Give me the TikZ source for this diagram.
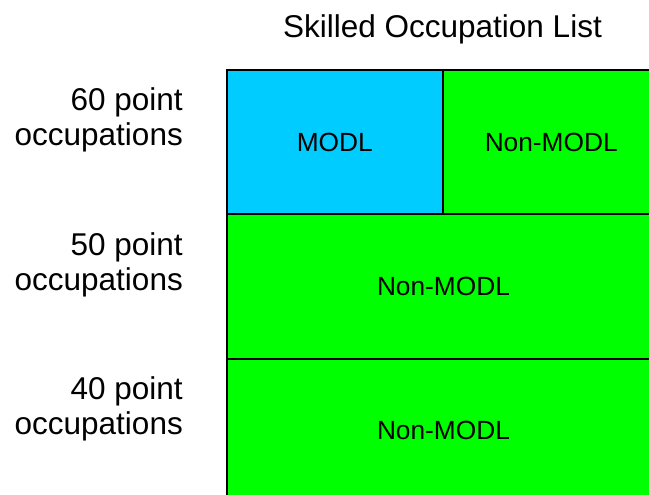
\documentclass[tikz,border=0pt]{standalone}
\usepackage{fontspec}
\setmainfont{Liberation Sans}
\definecolor{modlblue}{HTML}{00CCFF}
\definecolor{nongreen}{HTML}{00FF00}
\begin{document}
\begin{tikzpicture}[x=1pt,y=-1pt,
  cell/.style={draw=black, line width=2pt, inner sep=0pt, outer sep=0pt,
    font=\fontsize{26.3}{30}\selectfont, anchor=north west},
  big/.style={font=\fontsize{31.5}{35}\selectfont, inner sep=0pt}]
\useasboundingbox (0,0) rectangle (649,495);
\fill[white] (0,0) rectangle (649,495);
\clip (0,0) rectangle (649,495);
\node[cell, fill=modlblue, minimum width=215.5pt, minimum height=144.3pt] (c1) at (227,70) {MODL};
\node[cell, fill=nongreen, minimum width=217.5pt, minimum height=144.3pt] (c2) at (442.5,70) {Non-MODL};
\node[cell, fill=nongreen, minimum width=433pt, minimum height=144.4pt] (c3) at (227,214.3) {Non-MODL};
\node[cell, fill=nongreen, minimum width=433pt, minimum height=144.3pt] (c4) at (227,358.7) {Non-MODL};
\node[big, anchor=base] (title) at (442.5,38) {Skilled Occupation List};
\node[big, align=right, anchor=north east] (l60) at (183,87.8) {60 point\\occupations};
\node[big, align=right, anchor=north east] (l50) at (183,232.2) {50 point\\occupations};
\node[big, align=right, anchor=north east] (l40) at (183,376.6) {40 point\\occupations};
\end{tikzpicture}
\end{document}
